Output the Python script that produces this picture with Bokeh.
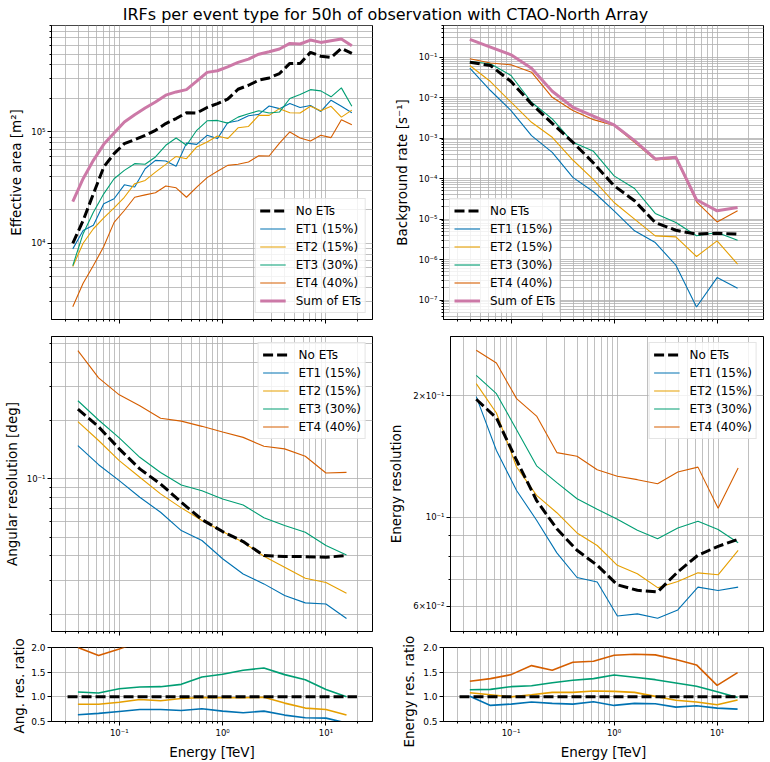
from bokeh.plotting import figure
from bokeh.layouts import column, row
from bokeh.models import FixedTicker, CustomJSTickFormatter, Legend, Range1d, Title
from bokeh.core.properties import value
from bokeh.embed import file_html
from bokeh.resources import INLINE

FONT = "DejaVu Sans"
TITLE = "IRFs per event type for 50h of observation with CTAO-North Array"
ET_LABELS = ["ET1 (15%)", "ET2 (15%)", "ET3 (30%)", "ET4 (40%)"]
NO_ET_LABEL = "No ETs"
SUM_LABEL = "Sum of ETs"
ET_COLORS = ["#0072B2", "#E69F00", "#009E73", "#D55E00"]
SUM_COLOR = "#CC79A7"

# ---------------- data ----------------
energy_aeff = [0.0355, 0.0447, 0.0562, 0.0708, 0.0891, 0.112, 0.141, 0.178, 0.224, 0.282,
               0.355, 0.447, 0.562, 0.708, 0.891, 1.12, 1.41, 1.78, 2.24, 2.82,
               3.55, 4.47, 5.62, 7.08, 8.91, 11.2, 14.1, 17.8]
aeff_no_ets = [10000, 16000, 27800, 48400, 63800, 78500, 85300, 93300, 103500, 119000,
               132000, 149000, 148000, 166000, 180000, 197000, 242000, 263000, 292000, 306000,
               335000, 413000, 413000, 519000, 479000, 467000, 563000, 508000]
aeff_et1 = [8900, 13000, 14500, 22600, 25100, 33500, 32000, 46700, 55600, 54900,
            49100, 79400, 77400, 93300, 87200, 121000, 126000, 140000, 144000, 171000,
            162000, 180000, 166000, 173000, 153000, 193000, 170000, 149000]
aeff_et2 = [6170, 10000, 13500, 16900, 20800, 25900, 34300, 36700, 43600, 51200,
            60300, 57500, 73300, 81300, 92000, 87200, 109000, 112000, 141000, 141000,
            162000, 149000, 148000, 170000, 155000, 170000, 136000, 157000]
aeff_et3 = [6300, 12200, 19000, 27800, 38000, 45200, 51900, 51200, 59600, 75900,
            88300, 75900, 103500, 126000, 127000, 120000, 136000, 146000, 155000, 148000,
            151000, 200000, 217000, 240000, 234000, 207000, 249000, 170000]
aeff_et4 = [2690, 4370, 6300, 9340, 15400, 19700, 25900, 27200, 28400, 32700,
            31500, 25900, 32000, 38900, 44300, 50100, 51200, 53700, 61200, 60800,
            79400, 100000, 88300, 83100, 93300, 89000, 129000, 116000]
aeff_sum = [23700, 38000, 55600, 77400, 98000, 123000, 143000, 164000, 186000, 214000,
            229000, 240000, 286000, 343000, 355000, 385000, 422000, 452000, 500000, 525000,
            556000, 625000, 617000, 670000, 638000, 661000, 684000, 596000]

energy = [0.0398, 0.0631, 0.1, 0.158, 0.251, 0.398, 0.631, 1.0, 1.58, 2.51, 3.98, 6.31, 10.0, 15.8]

bkg_no_ets = [0.0752, 0.0622, 0.025, 0.007, 0.00232, 0.00079, 0.000243, 6.65e-5, 2.83e-5, 8.2e-6,
              5.3e-6, 4.24e-6, 4.49e-6, 4.24e-6]
bkg_et1 = [0.0535, 0.015, 0.00479, 0.00115, 0.000446, 0.000107, 4.73e-5, 1.6e-5, 5.13e-6, 2.63e-6,
           7.24e-7, 6.76e-8, 3.59e-7, 1.95e-7]
bkg_et2 = [0.0622, 0.025, 0.0077, 0.00246, 0.00105, 0.000288, 9.4e-5, 2.57e-5, 1.0e-5, 3.86e-6,
           3.63e-6, 1.19e-6, 2.9e-6, 7.7e-7]
bkg_et3 = [0.078, 0.0684, 0.0352, 0.00769, 0.00298, 0.00079, 0.000471, 0.000117, 5.7e-5, 1.38e-5,
           8.2e-6, 3.86e-6, 4.67e-6, 3.0e-6]
bkg_et4 = [0.091, 0.072, 0.0646, 0.0425, 0.0102, 0.00479, 0.00286, 0.00204, 0.00079, 0.00029,
           0.00032, 2.67e-5, 8.5e-6, 1.6e-5]
bkg_sum = [0.274, 0.177, 0.114, 0.0534, 0.0144, 0.00578, 0.00347, 0.00211, 0.000865, 0.000305,
           0.000335, 3.0e-5, 1.6e-5, 1.94e-5]

ang_no_ets = [0.2296, 0.186, 0.143, 0.1127, 0.0942, 0.0758, 0.0617, 0.0535, 0.0475, 0.0402,
              0.0397, 0.0397, 0.0394, 0.0402]
ang_et1 = [0.1486, 0.1185, 0.098, 0.0804, 0.0673, 0.0541, 0.0481, 0.0387, 0.0323, 0.0287,
           0.025, 0.0229, 0.0226, 0.019]
ang_et2 = [0.1977, 0.158, 0.1244, 0.102, 0.0837, 0.0709, 0.061, 0.0535, 0.0471, 0.0399,
           0.035, 0.0307, 0.0292, 0.0257]
ang_et3 = [0.2535, 0.2016, 0.163, 0.1294, 0.108, 0.0931, 0.087, 0.0788, 0.0734, 0.063,
           0.0575, 0.0531, 0.0453, 0.0405]
ang_et4 = [0.46, 0.333, 0.272, 0.239, 0.206, 0.199, 0.187, 0.175, 0.164, 0.1475,
           0.143, 0.131, 0.1074, 0.1082]

eres_no_ets = [0.196, 0.1762, 0.1383, 0.1099, 0.0935, 0.0827, 0.0759, 0.0679, 0.0658, 0.0652,
               0.0731, 0.0804, 0.0846, 0.0881]
eres_et1 = [0.199, 0.1462, 0.1164, 0.0982, 0.0815, 0.0708, 0.069, 0.0568, 0.0575, 0.0561,
            0.0588, 0.067, 0.0657, 0.067]
eres_et2 = [0.2143, 0.1812, 0.1331, 0.1132, 0.1025, 0.0913, 0.085, 0.0759, 0.0723, 0.0668,
            0.0692, 0.0727, 0.0719, 0.0827]
eres_et3 = [0.2247, 0.2023, 0.1647, 0.134, 0.1217, 0.111, 0.1045, 0.0987, 0.0927, 0.0883,
            0.0939, 0.0976, 0.0931, 0.0863]
eres_et4 = [0.2594, 0.241, 0.1967, 0.178, 0.1445, 0.1415, 0.131, 0.1262, 0.1238, 0.121,
            0.1293, 0.133, 0.1052, 0.1323]

angr_et1 = [0.636, 0.664, 0.704, 0.744, 0.744, 0.724, 0.758, 0.71, 0.677, 0.71, 0.63, 0.575, 0.568, 0.47]
angr_et2 = [0.85, 0.85, 0.89, 0.945, 0.92, 0.966, 0.986, 0.98, 0.98, 0.993, 0.873, 0.772, 0.744, 0.63]
angr_et3 = [1.097, 1.077, 1.165, 1.2, 1.206, 1.253, 1.403, 1.457, 1.538, 1.586, 1.45, 1.348, 1.15, 1.0]
angr_et4 = [2.0, 1.84, 1.97, 2.12, 2.19, 2.63, 3.03, 3.27, 3.45, 3.67, 3.6, 3.3, 2.73, 2.69]

eresr_et1 = [1.01, 0.826, 0.853, 0.894, 0.867, 0.853, 0.9, 0.826, 0.867, 0.86, 0.792, 0.819, 0.772, 0.75]
eresr_et2 = [1.084, 1.043, 1.0, 1.043, 1.09, 1.09, 1.118, 1.11, 1.09, 1.01, 0.93, 0.894, 0.84, 0.934]
eresr_et3 = [1.145, 1.152, 1.206, 1.226, 1.287, 1.335, 1.369, 1.443, 1.396, 1.348, 1.28, 1.213, 1.104, 0.986]
eresr_et4 = [1.315, 1.369, 1.45, 1.633, 1.538, 1.70, 1.72, 1.844, 1.864, 1.85, 1.756, 1.647, 1.233, 1.49]

ratio_edges = [0.0316, 19.95]
ratio_ref = [1.0, 1.0]
ratio_ticks = [0.5, 1.0, 1.5, 2.0]

# ---------------- helpers ----------------
X_LO, X_HI = 0.0221, 28.2

LOGFMT_CODE = r"""
const sup = {"-":"\u207b","0":"\u2070","1":"\u00b9","2":"\u00b2","3":"\u00b3","4":"\u2074",
             "5":"\u2075","6":"\u2076","7":"\u2077","8":"\u2078","9":"\u2079"};
const e = Math.floor(Math.log10(tick) + 1e-6);
const m = Math.round(tick / Math.pow(10, e));
let s = "";
for (const c of String(e)) { s += sup[c]; }
return (m === 1 ? "" : m + "\u00d7") + "10" + s;
"""


def log_ticks(lo, hi):
    major = [10.0 ** e for e in range(lo, hi + 1)]
    minor = [k * 10.0 ** e for e in range(lo, hi + 1) for k in range(2, 10)]
    return major, minor


# (top border, bottom border, figure height)
ROWS = {"top": (1, 5, 300), "mid": (12, 5, 312), "bot": (11, 41, 126)}
# (left border, right border, figure width)
COLS = {"L": (51, 13, 385), "R": (58, 7, 385)}


def make_fig(col, rowkind, y_range, y_type, ylabel, ylabel_standoff, ylabel_as_title=None):
    t, b, h = ROWS[rowkind]
    l, r, w = COLS[col]
    p = figure(width=w, height=h, x_axis_type="log", y_axis_type=y_type,
               x_range=Range1d(X_LO, X_HI), y_range=y_range,
               toolbar_location=None, output_backend="svg",
               min_border_left=l, min_border_right=r, min_border_top=t, min_border_bottom=b)
    p.title = None
    p.background_fill_color = "white"
    p.border_fill_color = "white"
    p.outline_line_color = "black"
    p.outline_line_width = 1

    xmaj, xmin = log_ticks(-2, 2)
    xt = FixedTicker(ticks=xmaj, minor_ticks=xmin)
    p.xaxis.ticker = xt
    p.xgrid.ticker = xt

    for ax in (p.xaxis, p.yaxis):
        ax.axis_line_color = "black"
        ax.major_tick_line_color = "black"
        ax.minor_tick_line_color = "black"
        ax.major_tick_out = 4
        ax.major_tick_in = 0
        ax.minor_tick_out = 2
        ax.minor_tick_in = 0
        ax.major_label_text_font = FONT
        ax.major_label_text_color = "black"
        ax.major_label_standoff = 2
        ax.axis_label_text_font = FONT
        ax.axis_label_text_font_size = "13.5px"
        ax.axis_label_text_font_style = "normal"
        ax.axis_label_text_color = "black"

    if rowkind == "bot":
        p.xaxis.formatter = CustomJSTickFormatter(code=LOGFMT_CODE)
        p.xaxis.major_label_text_font_size = "8.5px"
        p.xaxis.axis_label = "Energy [TeV]"
        p.xaxis.axis_label_standoff = 3
    else:
        p.xaxis.formatter = CustomJSTickFormatter(code="return '';")
        p.xaxis.major_label_text_font_size = "0px"
        p.xaxis.major_label_standoff = 0

    if ylabel_as_title is None:
        p.yaxis.axis_label = ylabel
        p.yaxis.axis_label_standoff = ylabel_standoff
    else:
        ttl = Title(text=ylabel, align="left", offset=ylabel_as_title,
                    standoff=2 * ylabel_standoff, text_font=FONT,
                    text_font_size="13.5px", text_font_style="normal", text_color="black")
        p.add_layout(ttl, "left")

    for g in (p.xgrid, p.ygrid):
        g.grid_line_color = "#b0b0b0"
        g.grid_line_width = 0.8
        g.minor_grid_line_color = "#b0b0b0"
        g.minor_grid_line_width = 0.8
    return p


def set_log_y(p, lo, hi, majors=None, minors=None):
    if majors is None:
        majors, minors = log_ticks(lo, hi)
    yt = FixedTicker(ticks=majors, minor_ticks=minors)
    p.yaxis.ticker = yt
    p.ygrid.ticker = yt
    p.yaxis.formatter = CustomJSTickFormatter(code=LOGFMT_CODE)
    p.yaxis.major_label_text_font_size = "8.5px"


def add_legend(p, items, loc):
    leg = Legend(items=items, location=loc, margin=6, padding=4, spacing=3,
                 glyph_width=26, glyph_height=15, label_height=15, label_standoff=10,
                 label_text_font=FONT, label_text_font_size="12px", label_text_color="black",
                 border_line_color="#cccccc", border_line_width=1,
                 background_fill_color="white", background_fill_alpha=0.8)
    p.add_layout(leg)


def draw_panel(p, x, et_series, no_et, total=None, et_width=1.1):
    rs = []
    for ys, c in zip(et_series, ET_COLORS):
        rs.append(p.line(x, ys, line_color=c, line_width=et_width))
    r_no = p.line(x, no_et, line_color="black", line_width=3, line_dash="10 4")
    items = [(NO_ET_LABEL, [r_no])] + [(lab, [r]) for lab, r in zip(ET_LABELS, rs)]
    if total is not None:
        r_sum = p.line(x, total, line_color=SUM_COLOR, line_width=3)
        items.append((SUM_LABEL, [r_sum]))
    return items


# ---------------- title ----------------
pt = figure(width=770, height=24, x_range=Range1d(0, 1), y_range=Range1d(0, 24),
            x_axis_type=None, y_axis_type=None, toolbar_location=None,
            output_backend="svg", min_border=0)
pt.title = None
pt.outline_line_color = None
pt.background_fill_color = "white"
pt.border_fill_color = "white"
pt.text(x=[0.5], y=[10], text=[TITLE], text_align="center", text_baseline="alphabetic",
        text_font=value(FONT), text_font_size="16px", text_color="black")

# ---------------- effective area ----------------
p_aeff = make_fig("L", "top", Range1d(2065, 905000), "log", "Effective area [m\u00b2]", 4)
set_log_y(p_aeff, 3, 6)
items = draw_panel(p_aeff, energy_aeff, [aeff_et1, aeff_et2, aeff_et3, aeff_et4], aeff_no_ets, aeff_sum)
add_legend(p_aeff, items, "bottom_right")

# ---------------- background ----------------
p_bkg = make_fig("R", "top", Range1d(3.31e-8, 0.605), "log", "Background rate [s\u207b\u00b9]", 6)
set_log_y(p_bkg, -8, 0)
items = draw_panel(p_bkg, energy, [bkg_et1, bkg_et2, bkg_et3, bkg_et4], bkg_no_ets, bkg_sum)
add_legend(p_bkg, items, "bottom_left")

# ---------------- angular resolution ----------------
p_ang = make_fig("L", "mid", Range1d(0.01629, 0.5445), "log", "Angular resolution [deg]", 4)
set_log_y(p_ang, -2, 0)
items = draw_panel(p_ang, energy, [ang_et1, ang_et2, ang_et3, ang_et4], ang_no_ets)
add_legend(p_ang, items, "top_right")

# ---------------- energy resolution ----------------
p_eres = make_fig("R", "mid", Range1d(0.0520, 0.2805), "log", "Energy resolution", 6)
set_log_y(p_eres, -2, 0, majors=[0.06, 0.1, 0.2],
          minors=[0.04, 0.05, 0.07, 0.08, 0.09, 0.3, 0.4])
items = draw_panel(p_eres, energy, [eres_et1, eres_et2, eres_et3, eres_et4], eres_no_ets)
add_legend(p_eres, items, "top_right")


# ---------------- ratio panels ----------------
def ratio_fig(col, label, standoff, offset, series):
    p = make_fig(col, "bot", Range1d(0.5, 2.0), "linear", label, standoff, ylabel_as_title=offset)
    yt = FixedTicker(ticks=ratio_ticks)
    p.yaxis.ticker = yt
    p.ygrid.ticker = yt
    p.yaxis.formatter = CustomJSTickFormatter(code="return tick.toFixed(1);")
    p.yaxis.major_label_text_font_size = "9px"
    for ys, c in zip(series, ET_COLORS):
        p.line(energy, ys, line_color=c, line_width=1.6)
    p.line(ratio_edges, ratio_ref, line_color="black", line_width=3, line_dash="10 4")
    return p


p_angr = ratio_fig("L", "Ang. res. ratio", 2, -12, [angr_et1, angr_et2, angr_et3, angr_et4])
p_eresr = ratio_fig("R", "Energy res. ratio", 4, -26, [eresr_et1, eresr_et2, eresr_et3, eresr_et4])

layout = column(pt, row(p_aeff, p_bkg), row(p_ang, p_eres), row(p_angr, p_eresr))

open("out.html", "w").write(file_html(layout, INLINE, title="IRFs per event type"))
